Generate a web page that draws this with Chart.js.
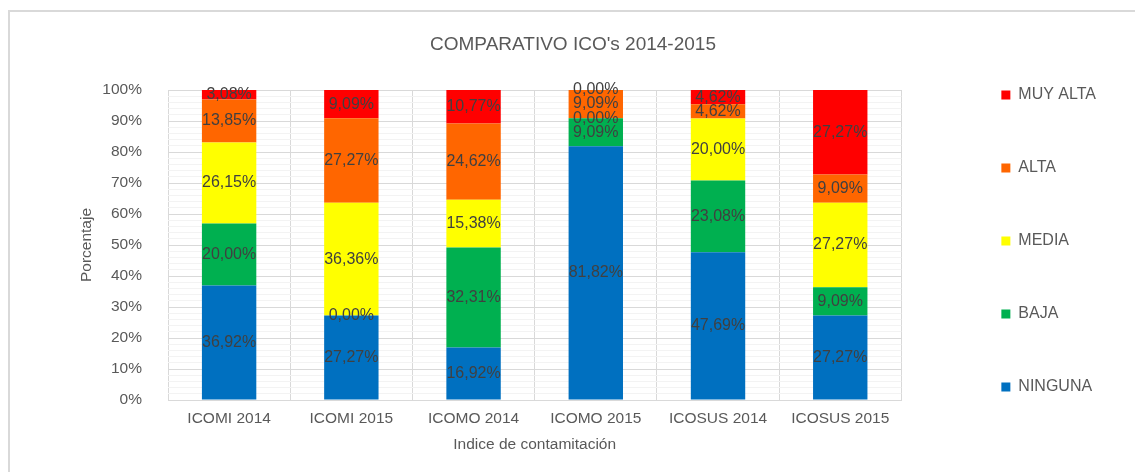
<!DOCTYPE html>
<html>
<head>
<meta charset="utf-8">
<script src="https://cdn.jsdelivr.net/npm/chart.js@4.4.1/dist/chart.umd.min.js"></script>
<style>
  html, body { margin: 0; padding: 0; background: #fff; }
  #wrap { position: relative; width: 1135px; height: 472px; overflow: hidden; }
  #frame { position: absolute; left: 8px; top: 10px; width: 1140px; height: 480px;
           border-left: 2px solid #d9d9d9; border-top: 2px solid #d9d9d9; }
  canvas { position: absolute; left: 0; top: 0; }
</style>
</head>
<body>
<div id="wrap">
  <div id="frame"></div>
  <canvas id="chart" width="1135" height="472"></canvas>
</div>
<script>
// datos (porcentajes por indice)
const categories = ["ICOMI 2014", "ICOMI 2015", "ICOMO 2014", "ICOMO 2015", "ICOSUS 2014", "ICOSUS 2015"];
const ninguna = [36.92, 27.27, 16.92, 81.82, 47.69, 27.27];
const baja    = [20.00, 0.00, 32.31, 9.09, 23.08, 9.09];
const media   = [26.15, 36.36, 15.38, 0.00, 20.00, 27.27];
const alta    = [13.85, 27.27, 24.62, 9.09, 4.62, 9.09];
const muyAlta = [3.08, 9.09, 10.77, 0.00, 4.62, 27.27];
const seriesNames = ["NINGUNA", "BAJA", "MEDIA", "ALTA", "MUY ALTA"];
const seriesColors = ["#0070C0", "#00B050", "#FFFF00", "#FF6600", "#FF0000"];

const textColor = "#595959";
Chart.defaults.font.family = '"Liberation Sans", Arial, sans-serif';
Chart.defaults.color = textColor;

// etiquetas de porcentaje en el centro de cada segmento
const barLabels = {
  id: "barLabels",
  afterDatasetsDraw(chart) {
    const ctx = chart.ctx;
    ctx.save();
    ctx.font = '16px "Liberation Sans", Arial, sans-serif';
    ctx.fillStyle = "#404040";
    ctx.textAlign = "center";
    ctx.textBaseline = "middle";
    chart.data.datasets.forEach((ds, i) => {
      chart.getDatasetMeta(i).data.forEach((bar, j) => {
        const txt = ds.data[j].toFixed(2).replace(".", ",") + "%";
        ctx.fillText(txt, bar.x, (bar.y + bar.base) / 2);
      });
    });
    ctx.restore();
  }
};

const values = [ninguna, baja, media, alta, muyAlta];

new Chart(document.getElementById("chart"), {
  type: "bar",
  data: {
    labels: categories,
    datasets: values.map((v, i) => ({
      label: seriesNames[i],
      data: v,
      backgroundColor: seriesColors[i],
      borderWidth: 0,
      categoryPercentage: 1,
      barPercentage: 0.445,
      yAxisID: "y",
    })),
  },
  options: {
    responsive: false,
    animation: false,
    layout: { padding: { left: 40, right: 29, top: 10, bottom: 0 } },
    plugins: {
      title: {
        display: true,
        text: "COMPARATIVO ICO's 2014-2015",
        color: textColor,
        font: { size: 19, weight: "normal" },
        padding: { top: 23.6, bottom: 33.6 },
      },
      legend: {
        position: "right",
        align: "center",
        reverse: true,
        labels: {
          boxWidth: 9,
          boxHeight: 9,
          padding: 57,
          color: textColor,
          font: { size: 16 },
        },
      },
      tooltip: { enabled: false },
    },
    scales: {
      x: {
        stacked: true,
        grid: { offset: true, color: "#d9d9d9", drawTicks: false },
        border: { color: "#d9d9d9" },
        ticks: { color: textColor, font: { size: 15.5 }, padding: 9 },
        title: {
          display: true,
          text: "Indice de contamitación",
          color: textColor,
          font: { size: 15.5 },
          padding: { top: 0, bottom: 17.7 },
        },
        afterFit: (s) => { s.height = 72; },
      },
      y: {
        stacked: true,
        min: 0,
        max: 100,
        grid: {
          drawTicks: false,
          color: (c) => (c.tick && c.tick.value % 10 === 0 ? "#d9d9d9" : "#f3f3f3"),
        },
        border: { display: false },
        ticks: {
          stepSize: 2,
          autoSkip: false,
          padding: 26,
          color: textColor,
          font: { size: 15.5 },
          callback: (v) => (v % 10 === 0 ? v + "%" : ""),
        },
        title: {
          display: true,
          text: "Porcentaje",
          color: textColor,
          font: { size: 15.5 },
          padding: { top: 37.7, bottom: 0 },
        },
        afterFit: (s) => { s.width = 128; },
      },
      // espacio entre el area del grafico y la leyenda
      spacer: {
        type: "linear",
        position: "right",
        grid: { display: false },
        border: { display: false },
        ticks: { display: false },
        afterFit: (s) => { s.width = 43; },
      },
    },
  },
  plugins: [barLabels],
});
</script>
</body>
</html>
